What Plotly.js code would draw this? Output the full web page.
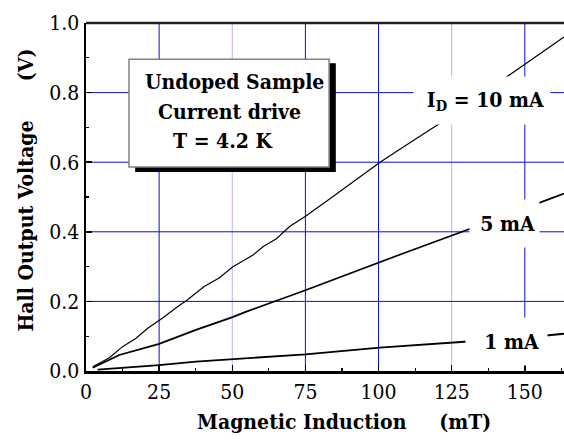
<!DOCTYPE html>
<html>
<head>
<meta charset="utf-8">
<script src="https://cdn.plot.ly/plotly-3.0.1.min.js"></script>
<style>html,body{margin:0;padding:0;background:#fff;}#chart{width:564px;height:442px;}</style>
</head>
<body>
<div id="chart"></div>
<script>
// Magnetic induction (mT) and Hall output voltage (V)
const B10 = [2.3, 8.0, 12.5, 17.1, 21.1, 26.2, 30.7, 34.7, 40.4, 45.5, 50.1, 54.6, 57.1, 60.6, 65.1, 69.7, 74.8, 82.2, 90.2, 100.4, 107.8, 120.9, 131.0, 144.2, 163.4];
const V10 = [0.012, 0.038, 0.070, 0.094, 0.123, 0.152, 0.181, 0.205, 0.243, 0.267, 0.299, 0.322, 0.333, 0.358, 0.380, 0.416, 0.443, 0.488, 0.536, 0.599, 0.640, 0.711, 0.770, 0.848, 0.960];
const B5 = [2.3, 11.4, 25.0, 37.6, 50.1, 54.6, 75.0, 89.0, 100.4, 107.2, 131.1, 155.0, 163.4];
const V5 = [0.0095, 0.046, 0.078, 0.118, 0.155, 0.170, 0.232, 0.277, 0.313, 0.334, 0.408, 0.483, 0.510];
const B1 = [4.0, 25.0, 37.6, 54.6, 75.0, 100.4, 123.2, 129.4, 157.3, 163.4];
const V1 = [0.004, 0.017, 0.027, 0.037, 0.048, 0.067, 0.080, 0.084, 0.102, 0.107];

const seriesLabels = ["I<sub>D</sub> = 10 mA", "5 mA", "1 mA"];
const boxLines = ["Undoped Sample", "Current drive", "T = 4.2 K"];
const NB = n => "\u00a0".repeat(n);
const xTitle = "Magnetic Induction" + NB(5) + "(mT)";
const yTitle = "Hall Output Voltage" + NB(6) + "(V)";
const gridDark = [25, 75, 100, 150];
const gridLight = [50, 125];
const gridH = [0.2, 0.4, 0.6, 0.8];

const BLUE = "#0a0ae6";
const LIGHT = "#b4b4ff";

const mk = (x, y, w) => ({x: x, y: y, type: "scatter", mode: "lines",
  line: {color: "#000", width: w}, hoverinfo: "skip", showlegend: false});
const data = [mk(B10, V10, 1.2), mk(B5, V5, 1.8), mk(B1, V1, 1.8)];

const shapes = [];
gridDark.forEach(v => shapes.push({type: "line", xref: "x", yref: "paper", x0: v, x1: v, y0: 0, y1: 1,
  line: {color: BLUE, width: 1}, layer: "below"}));
gridLight.forEach(v => shapes.push({type: "line", xref: "x", yref: "paper", x0: v, x1: v, y0: 0, y1: 1,
  line: {color: LIGHT, width: 1}, layer: "below"}));
gridH.forEach(v => shapes.push({type: "line", xref: "paper", yref: "y", x0: 0, x1: 1, y0: v, y1: v,
  line: {color: BLUE, width: 1}, layer: "below"}));
shapes.push({type: "line", xref: "paper", yref: "paper", x0: 0, x1: 1, y0: 1, y1: 1,
  line: {color: "#222", width: 2.5}, layer: "above"});
shapes.push({type: "rect", xref: "x", yref: "y", x0: 16.8, x1: 85.4, y0: 0.572, y1: 0.884,
  fillcolor: "#000", line: {width: 0}, layer: "above"});
shapes.push({type: "rect", xref: "x", yref: "y", x0: 14.7, x1: 83.1, y0: 0.5864, y1: 0.8955,
  fillcolor: "#fff", line: {color: "#808080", width: 1.5}, layer: "above"});

const bfont = {family: "DejaVu Serif Condensed", size: 21, color: "#000", weight: "bold"};
const annotations = [
  {xref: "x", yref: "y", x: 135.4, y: 0.7764, text: seriesLabels[0], showarrow: false, font: bfont,
   bgcolor: "#fff", borderpad: 6, width: 124, height: 35, align: "right"},
  {xref: "x", yref: "y", x: 143.1, y: 0.4234, text: seriesLabels[1], showarrow: false, font: bfont,
   bgcolor: "#fff", borderpad: 4, width: 61, height: 39, align: "right"},
  {xref: "x", yref: "y", x: 143.7, y: 0.0841, text: seriesLabels[2], showarrow: false, font: bfont,
   bgcolor: "#fff", borderpad: 8, width: 65, height: 31, align: "right"},
  {xref: "x", yref: "y", x: 50.9, y: 0.8332, text: boxLines[0], showarrow: false, font: bfont},
  {xref: "x", yref: "y", x: 48.9, y: 0.7471, text: boxLines[1], showarrow: false, font: bfont},
  {xref: "x", yref: "y", x: 47.0, y: 0.6610, text: boxLines[2], showarrow: false, font: bfont},
  // axis titles
  {xref: "paper", yref: "paper", x: 0.5397, y: -0.1437, xanchor: "center", yanchor: "middle",
   text: xTitle, showarrow: false, font: bfont},
  {xref: "paper", yref: "paper", x: -0.1276, y: 0.5187, xanchor: "center", yanchor: "middle",
   text: yTitle, textangle: -90, showarrow: false, font: bfont}
];

const tickfont = {family: "DejaVu Serif Condensed", size: 21, color: "#000"};
const layout = {
  width: 564, height: 442,
  margin: {l: 86, r: 0, t: 23, b: 71, pad: 0},
  paper_bgcolor: "#fff", plot_bgcolor: "#fff",
  font: {family: "DejaVu Serif Condensed"},
  xaxis: {
    range: [0, 163.4], tickmode: "linear", tick0: 0, dtick: 25,
    ticks: "inside", ticklen: 6, tickwidth: 1.5, tickcolor: "#000",
    minor: {tickmode: "linear", tick0: 0, dtick: 12.5, ticks: "inside", ticklen: 3, tickwidth: 1.2, tickcolor: "#000", showgrid: false},
    showline: true, linecolor: "#000", linewidth: 2.5,
    showgrid: false, zeroline: false, tickfont: tickfont
  },
  yaxis: {
    range: [0, 1.0], tickmode: "linear", tick0: 0, dtick: 0.2, tickformat: ".1f",
    ticks: "inside", ticklen: 6, tickwidth: 1.5, tickcolor: "#000",
    minor: {tickmode: "linear", tick0: 0, dtick: 0.1, ticks: "inside", ticklen: 3, tickwidth: 1.2, tickcolor: "#000", showgrid: false},
    showline: true, linecolor: "#000", linewidth: 2.5,
    showgrid: false, zeroline: false, tickfont: tickfont
  },
  shapes: shapes,
  annotations: annotations,
  showlegend: false
};

Plotly.newPlot("chart", data, layout, {staticPlot: true, displayModeBar: false});
</script>
</body>
</html>
